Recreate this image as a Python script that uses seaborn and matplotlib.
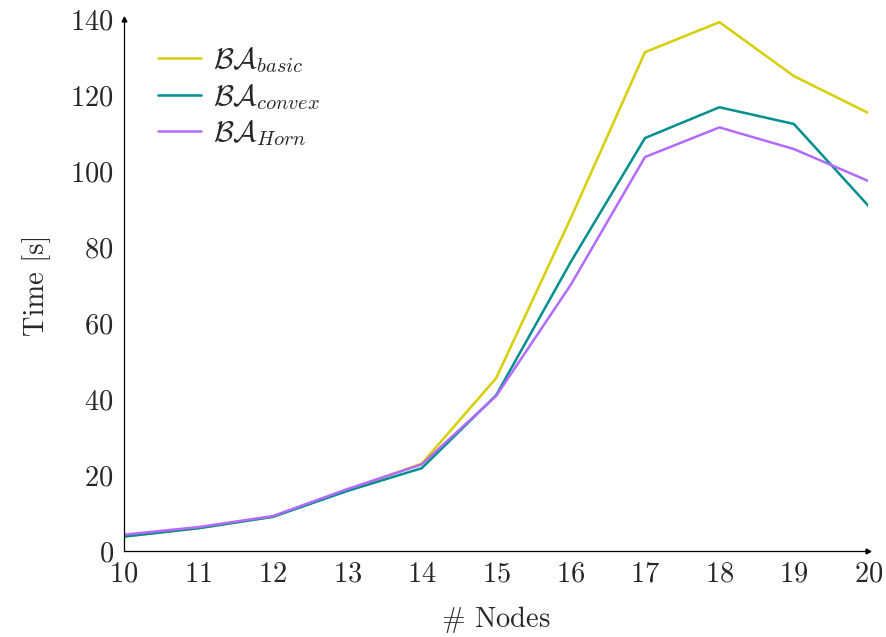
import numpy as np
import pandas as pd
import matplotlib
matplotlib.use("Agg")
import matplotlib.pyplot as plt
import seaborn as sns

# data
nodes = [10, 11, 12, 13, 14, 15, 16, 17, 18, 19, 20]
basic = [3.8, 6.0, 9.0, 16.0, 23.0, 45.5, 87.5, 131.3, 139.2, 125.0, 115.3]
convex = [3.8, 6.0, 9.0, 15.8, 21.8, 41.0, 76.0, 108.7, 116.8, 112.4, 90.9]
horn = [4.3, 6.3, 9.2, 16.3, 22.8, 40.8, 70.0, 103.7, 111.5, 105.8, 97.4]

labels = [r"$\mathcal{BA}_{basic}$", r"$\mathcal{BA}_{convex}$", r"$\mathcal{BA}_{Horn}$"]
colors = ["#d6cf00", "#008f8f", "#b36bff"]

df = pd.DataFrame({
    "nodes": nodes * 3,
    "time": basic + convex + horn,
    "method": [labels[0]] * 11 + [labels[1]] * 11 + [labels[2]] * 11,
})

sns.set_style("white")
plt.rcParams["font.family"] = "serif"
plt.rcParams["font.serif"] = ["cmr10", "DejaVu Serif"]
plt.rcParams["mathtext.fontset"] = "cm"
plt.rcParams["axes.formatter.use_mathtext"] = True

fig = plt.figure(figsize=(8.86, 6.37), dpi=100)
ax = fig.add_axes([0.140, 0.135, 0.840, 0.835])

sns.lineplot(data=df, x="nodes", y="time", hue="method",
             palette=dict(zip(labels, colors)), linewidth=1.8, ax=ax)

ax.set_xlim(10, 20)
ax.set_ylim(0, 140)
ax.set_xticks(nodes)
ax.set_yticks(np.arange(0, 141, 20))
ax.tick_params(direction="inout", length=7, width=0.8, color="#999999",
               labelsize=20.5, pad=4)
for s in ["top", "right"]:
    ax.spines[s].set_visible(False)
for s in ["left", "bottom"]:
    ax.spines[s].set_color("black")
    ax.spines[s].set_linewidth(0.9)

# arrow heads at end of axes
ax.plot(1, 0, ">", color="black", markersize=3.5, transform=ax.transAxes, clip_on=False)
ax.plot(0, 1, "^", color="black", markersize=3.5, transform=ax.transAxes, clip_on=False)

ax.set_xlabel(r"$\#$ Nodes", fontsize=20.5, labelpad=12)
ax.set_ylabel("Time [s]", fontsize=20.5, labelpad=14)

leg = ax.legend(loc="upper left", bbox_to_anchor=(0.01, 1.0), frameon=False,
                fontsize=21, handlelength=1.5, labelspacing=0.22, handletextpad=0.4)

fig.savefig("out.png", dpi=100)
